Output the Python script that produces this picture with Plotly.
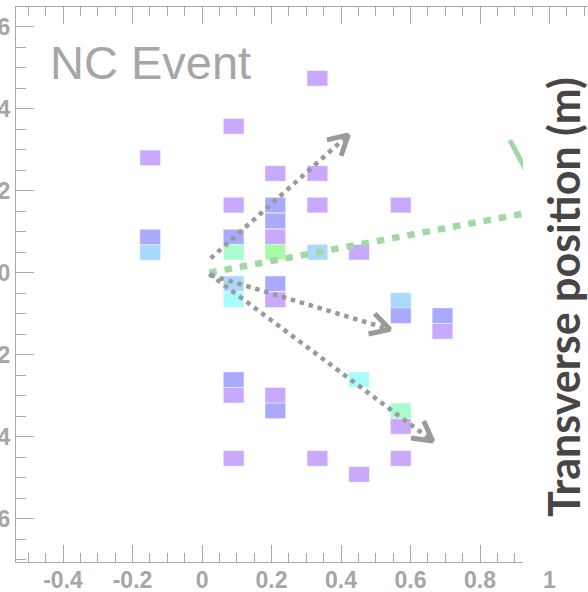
import math
import plotly.graph_objects as go

# ---------------- data ----------------
# detector cells (column position in x, row centre in transverse position, energy level)
cell_x = [-0.149, -0.149, -0.149,
          0.091, 0.091, 0.091, 0.091, 0.091, 0.091, 0.091, 0.091, 0.091,
          0.211, 0.211, 0.211, 0.211, 0.211, 0.211, 0.211, 0.211, 0.211,
          0.332, 0.332, 0.332, 0.332, 0.332,
          0.452, 0.452, 0.452,
          0.572, 0.572, 0.572, 0.572, 0.572, 0.572,
          0.692, 0.692]
cell_y = [2.80, 0.87, 0.49,
          3.57, 1.65, 0.87, 0.50, -0.27, -0.66, -2.61, -2.99, -4.53,
          2.42, 1.65, 1.26, 0.87, 0.50, -0.27, -0.66, -2.99, -3.37,
          4.74, 2.42, 1.65, 0.50, -4.53,
          0.50, -2.61, -4.92,
          1.65, -0.68, -1.05, -3.37, -3.75, -4.53,
          -1.05, -1.43]
cell_level = [0, 1, 2,
              0, 0, 1, 4, 2, 3, 1, 0, 0,
              0, 1, 1, 0, 5, 1, 0, 0, 1,
              0, 0, 0, 2, 0,
              0, 3, 0,
              0, 2, 1, 4, 0, 0,
              1, 0]

# dotted particle-track arrows (start -> tip)
arrow_start_x = [0.025, 0.025, 0.021]
arrow_start_y = [0.35, -0.06, -0.03]
arrow_tip_x = [0.421, 0.541, 0.664]
arrow_tip_y = [3.36, -1.383, -4.107]

# green dotted track and the stub of green line at the right edge
green_x = [0.021, 0.98]
green_y = [0.0, 1.53]
green_stub_x = [0.886, 0.944]
green_stub_y = [3.234, 2.30]

x_tick_vals = [-0.4, -0.2, 0, 0.2, 0.4, 0.6, 0.8, 1]
x_tick_text = ["-0.4", "-0.2", "0", "0.2", "0.4", "0.6", "0.8", "1"]
y_tick_vals = [-6, -4, -2, 0, 2, 4, 6]
y_tick_text = ["-6", "-4", "-2", "0", "2", "4", "6"]

# ---------------- styling / layout constants ----------------
level_colors = ["#c9a9fd", "#aaaafd", "#a9d9fd", "#a9fcfd", "#a9fcd0", "#a9fca6"]
W, H = 588, 592
ML, MR, MT, MB = 16, 0, 7, 30
X_MAIN_END_PX = 523
X_MAIN_RANGE = [-0.5353, 0.9237]
Y_RANGE = [-7.056, 6.48]
plot_w = W - ML - MR
plot_h = H - MT - MB
main_dom = (X_MAIN_END_PX - ML) / plot_w
sx = (X_MAIN_END_PX - ML) / (X_MAIN_RANGE[1] - X_MAIN_RANGE[0])
sy = plot_h / (Y_RANGE[1] - Y_RANGE[0])
X_FULL_RANGE = [X_MAIN_RANGE[0], X_MAIN_RANGE[0] + plot_w / sx]

CELL_W = 0.0596
CELL_H = 0.38
AX_COLOR = "#a9a9a9"
LBL_COLOR = "#a6a6a6"
GRAY = "#9a9a9a"
GREEN = "#a3d8a5"

fig = go.Figure()

# cells
fig.add_trace(go.Bar(
    x=cell_x, y=[CELL_H] * len(cell_x), base=[v - CELL_H / 2 for v in cell_y],
    width=CELL_W, xaxis="x", yaxis="y",
    marker=dict(color=[level_colors[l] for l in cell_level],
                line=dict(color="rgba(255,255,255,0.45)", width=1)),
    hoverinfo="skip"))

# green dotted line + stub
fig.add_trace(go.Scatter(x=green_x, y=green_y, mode="lines", xaxis="x", yaxis="y",
                         line=dict(color=GREEN, width=6.5, dash="7.5px,8px"), hoverinfo="skip"))
fig.add_trace(go.Scatter(x=green_stub_x, y=green_stub_y, mode="lines", xaxis="x", yaxis="y",
                         line=dict(color=GREEN, width=5), hoverinfo="skip"))

# gray dotted arrows with open chevron heads
HEAD_LEN = 22
HEAD_ANG = math.radians(29)
for x0, y0, x1, y1 in zip(arrow_start_x, arrow_start_y, arrow_tip_x, arrow_tip_y):
    fig.add_trace(go.Scatter(x=[x0, x1], y=[y0, y1], mode="lines", xaxis="x", yaxis="y",
                             line=dict(color=GRAY, width=4.5, dash="4.5px,4.8px"),
                             hoverinfo="skip"))
    dxp, dyp = (x1 - x0) * sx, (y1 - y0) * sy
    ang = math.atan2(dyp, dxp)
    hx, hy = [], []
    for s in (1, None, -1):
        if s is None:
            hx.append(x1); hy.append(y1)
            continue
        a = ang + math.pi + s * HEAD_ANG
        hx.append(x1 + HEAD_LEN * math.cos(a) / sx)
        hy.append(y1 + HEAD_LEN * math.sin(a) / sy)
    fig.add_trace(go.Scatter(x=hx, y=hy, mode="lines", xaxis="x", yaxis="y",
                             line=dict(color=GRAY, width=5), hoverinfo="skip"))

# empty traces so the helper axes get drawn
fig.add_trace(go.Scatter(x=[], y=[], xaxis="x2", yaxis="y", showlegend=False))
fig.add_trace(go.Scatter(x=[], y=[], xaxis="x3", yaxis="y", showlegend=False))

tickfont = dict(family="Liberation Sans, Arial, sans-serif", size=23, color=LBL_COLOR, weight="bold")

fig.update_layout(
    width=W, height=H,
    margin=dict(l=ML, r=MR, t=MT, b=MB, pad=0, autoexpand=False),
    paper_bgcolor="white", plot_bgcolor="rgba(0,0,0,0)",
    showlegend=False, barmode="overlay",
    xaxis=dict(domain=[0, main_dom], range=X_MAIN_RANGE, anchor="y", side="bottom",
               showgrid=False, zeroline=False, showline=True, linecolor=AX_COLOR, linewidth=1.3,
               ticks="inside", ticklen=17, tickwidth=1.3, tickcolor=AX_COLOR,
               tickvals=x_tick_vals, showticklabels=False, automargin=False,
               minor=dict(ticks="inside", ticklen=9, tickwidth=1.3, tickcolor=AX_COLOR,
                          dtick=0.05, tick0=0, showgrid=False)),
    xaxis2=dict(domain=[0, 1], range=X_FULL_RANGE, anchor="y", side="top",
                showgrid=False, zeroline=False, showline=True, linecolor=AX_COLOR, linewidth=1.3,
                ticks="inside", ticklen=17, tickwidth=1.3, tickcolor=AX_COLOR,
                tickvals=x_tick_vals, showticklabels=False, automargin=False,
                minor=dict(ticks="inside", ticklen=9, tickwidth=1.3, tickcolor=AX_COLOR,
                           dtick=0.05, tick0=0, showgrid=False)),
    xaxis3=dict(overlaying="x2", range=X_FULL_RANGE, anchor="y", side="bottom",
                showgrid=False, zeroline=False, showline=False, ticks="", automargin=False,
                tickvals=x_tick_vals, ticktext=x_tick_text, tickfont=tickfont,
                ticklabelstandoff=2),
    yaxis=dict(domain=[0, 1], range=Y_RANGE, anchor="x", automargin=False,
               showgrid=False, zeroline=False, showline=True, linecolor=AX_COLOR, linewidth=1.3,
               ticks="inside", ticklen=18, tickwidth=1.3, tickcolor=AX_COLOR,
               tickvals=y_tick_vals, ticktext=y_tick_text, tickfont=tickfont,
               minor=dict(ticks="inside", ticklen=10, tickwidth=1.3, tickcolor=AX_COLOR,
                          dtick=0.5, tick0=0, showgrid=False)),
    annotations=[
        dict(text="NC Event", xref="paper", yref="paper", x=(48 - ML) / plot_w,
             y=(H - MB - 63) / plot_h, xanchor="left", yanchor="middle", showarrow=False,
             font=dict(family="Liberation Sans, Arial, sans-serif", size=47, color=LBL_COLOR)),
        dict(text="Transverse position (m)", xref="paper", yref="paper",
             x=(563 - ML) / plot_w, y=(H - MB - 297) / plot_h, xanchor="center", yanchor="middle",
             textangle=-90, showarrow=False,
             font=dict(family="Lato, sans-serif", size=43, color="#4a4545", weight="bold")),
    ],
)

fig.write_html("out.html", config={"displayModeBar": False},
               post_script="document.body.style.margin='0';document.body.style.overflow='hidden';")
